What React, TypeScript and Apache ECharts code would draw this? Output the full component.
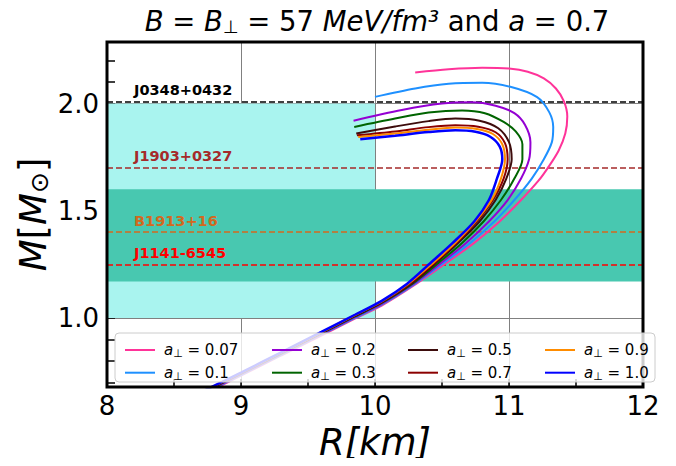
import React, { useEffect, useRef } from 'react';
import * as echarts from 'echarts';

const FONT = 'DejaVu Sans';

const X_MIN = 8;
const X_MAX = 12;
const Y_MIN = 0.678;
const Y_MAX = 2.287;

const seriesNames = ['0.07', '0.1', '0.2', '0.3', '0.5', '0.7', '0.9', '1.0'];
const seriesColors = ['#ff3399', '#1e90ff', '#9400d3', '#006400', '#3d0c0c', '#8b0000', '#ff8c00', '#0000ff'];

// radius (km) and mass (Msun), bottom branch first
const r007 = [8.77, 9.0, 9.3, 9.6, 9.85, 10.05, 10.31, 10.54, 10.74, 10.93, 11.09, 11.22, 11.29, 11.37, 11.42, 11.435, 11.41, 11.35, 11.26, 11.14, 11.0, 10.8, 10.55, 10.30];
const m007 = [0.66, 0.731, 0.825, 0.918, 0.997, 1.058, 1.16, 1.26, 1.35, 1.45, 1.55, 1.64, 1.70, 1.78, 1.86, 1.94, 2.01, 2.07, 2.117, 2.148, 2.163, 2.167, 2.16, 2.145];
const r01 = [8.76, 9.0, 9.3, 9.6, 9.85, 10.05, 10.3, 10.52, 10.71, 10.89, 11.04, 11.17, 11.26, 11.32, 11.33, 11.3, 11.21, 11.01, 10.8, 10.55, 10.3, 10.0];
const m01 = [0.66, 0.734, 0.828, 0.922, 1.0, 1.062, 1.16, 1.26, 1.35, 1.45, 1.55, 1.65, 1.74, 1.82, 1.89, 1.96, 2.03, 2.078, 2.097, 2.092, 2.07, 2.031];
const r02 = [8.75, 9.0, 9.3, 9.6, 9.85, 10.05, 10.29, 10.5, 10.68, 10.85, 10.99, 11.09, 11.15, 11.16, 11.12, 11.04, 10.9, 10.72, 10.5, 10.2, 9.84];
const m02 = [0.66, 0.737, 0.831, 0.925, 1.004, 1.066, 1.16, 1.26, 1.35, 1.45, 1.55, 1.65, 1.74, 1.82, 1.9, 1.955, 1.99, 2.006, 2.0, 1.97, 1.92];
const r03 = [8.74, 9.0, 9.3, 9.6, 9.85, 10.05, 10.28, 10.48, 10.65, 10.81, 10.94, 11.04, 11.1, 11.1, 11.05, 10.96, 10.82, 10.65, 10.4, 10.15, 9.845];
const m03 = [0.66, 0.74, 0.834, 0.928, 1.007, 1.07, 1.16, 1.26, 1.35, 1.45, 1.55, 1.65, 1.74, 1.81, 1.87, 1.914, 1.955, 1.968, 1.958, 1.93, 1.891];
const r05 = [8.74, 9.0, 9.3, 9.6, 9.85, 10.05, 10.27, 10.46, 10.62, 10.78, 10.9, 10.98, 11.02, 11.0, 10.92, 10.78, 10.6, 10.4, 10.15, 9.86];
const m05 = [0.66, 0.742, 0.836, 0.93, 1.01, 1.073, 1.16, 1.26, 1.35, 1.45, 1.55, 1.65, 1.74, 1.82, 1.885, 1.92, 1.93, 1.918, 1.893, 1.86];
const r07 = [8.73, 9.0, 9.3, 9.6, 9.85, 10.05, 10.26, 10.45, 10.61, 10.76, 10.88, 10.96, 10.99, 10.97, 10.9, 10.77, 10.6, 10.4, 10.15, 9.865];
const m07 = [0.66, 0.743, 0.837, 0.932, 1.012, 1.075, 1.16, 1.26, 1.35, 1.45, 1.55, 1.65, 1.74, 1.815, 1.866, 1.892, 1.899, 1.89, 1.87, 1.852];
const r09 = [8.73, 9.0, 9.3, 9.6, 9.85, 10.05, 10.25, 10.44, 10.6, 10.75, 10.87, 10.94, 10.97, 10.95, 10.88, 10.76, 10.6, 10.4, 10.15, 9.875];
const m09 = [0.66, 0.744, 0.838, 0.933, 1.013, 1.077, 1.16, 1.26, 1.35, 1.45, 1.55, 1.65, 1.74, 1.81, 1.858, 1.881, 1.888, 1.878, 1.86, 1.844];
const r10 = [8.72, 9.0, 9.3, 9.6, 9.85, 10.05, 10.24, 10.42, 10.58, 10.74, 10.85, 10.91, 10.95, 10.93, 10.86, 10.75, 10.6, 10.4, 10.15, 9.89];
const m10 = [0.66, 0.745, 0.84, 0.935, 1.015, 1.08, 1.16, 1.26, 1.35, 1.45, 1.55, 1.65, 1.74, 1.80, 1.845, 1.868, 1.875, 1.867, 1.85, 1.833];

const radii = [r007, r01, r02, r03, r05, r07, r09, r10];
const masses = [m007, m01, m02, m03, m05, m07, m09, m10];

const pulsarNames = ['J0348+0432', 'J1903+0327', 'B1913+16', 'J1141-6545'];
const pulsarMasses = [2.01, 1.70, 1.40, 1.25];
const pulsarColors = ['#000000', '#a52a2a', '#d2691e', '#ff0000'];

const lightBandR = [8, 10];
const lightBandM = [1.0, 2.0];
const darkBandR = [8, 12];
const darkBandM = [1.17, 1.60];

const xTickStep = 0.5;
const xGridStep = 1;

const GRID = { left: 107, top: 42, width: 536, height: 345 };

const subRich = {
  i: { fontFamily: FONT, fontStyle: 'italic', fontSize: 15, color: '#000' },
  s: { fontFamily: FONT, fontSize: 11, color: '#000', verticalAlign: 'bottom' },
  n: { fontFamily: FONT, fontSize: 15, color: '#000' },
};

export default function App() {
  const ref = useRef<HTMLDivElement>(null);
  useEffect(() => {
    if (!ref.current) return;
    const chart = echarts.init(ref.current, null, { renderer: 'svg' });

    const curveSeries = seriesNames.map((name, k) => ({
      name,
      type: 'line',
      data: radii[k].map((r, j) => [r, masses[k][j]]),
      symbol: 'none',
      smooth: 0.3,
      lineStyle: { color: seriesColors[k], width: k === 7 ? 2.5 : 2 },
      itemStyle: { color: seriesColors[k] },
      z: 5 + k,
      clip: true,
    }));

    const bandSeries = {
      name: 'bands',
      type: 'line',
      data: [],
      z: -1,
      silent: true,
      markArea: {
        silent: true,
        data: [
          [
            { xAxis: lightBandR[0], yAxis: lightBandM[0], itemStyle: { color: '#a9f4ef' } },
            { xAxis: lightBandR[1], yAxis: lightBandM[1] },
          ],
          [
            { xAxis: darkBandR[0], yAxis: darkBandM[0], itemStyle: { color: '#48c8b0' } },
            { xAxis: darkBandR[1], yAxis: darkBandM[1] },
          ],
        ],
      },
    };

    const lineSeries = {
      name: 'pulsars',
      type: 'line',
      data: [],
      z: 3,
      silent: true,
      markLine: {
        silent: true,
        symbol: ['none', 'none'],
        data: pulsarMasses.map((m, k) => ({
          yAxis: m,
          lineStyle: { color: pulsarColors[k], type: [6, 3], width: 1.5 },
          label: {
            show: true,
            formatter: pulsarNames[k],
            position: 'insideStartTop',
            distance: [27, 4],
            color: pulsarColors[k],
            fontFamily: FONT,
            fontWeight: 'bold',
            fontSize: 14.5,
          },
        })),
      },
    };

    const legendCols = [120, 267, 403, 540];
    const legends = legendCols.map((x, c) => ({
      data: seriesNames.slice(c * 2, c * 2 + 2).map((n, j) => ({
        name: n,
        icon: 'rect',
        itemStyle: { color: seriesColors[c * 2 + j] },
      })),
      orient: 'vertical',
      left: x,
      top: 336,
      itemWidth: 30,
      itemHeight: 2,
      itemGap: 4.7,
      z: 70,
      selectedMode: false,
      formatter: (name: string) => `{i|a}{s|⊥}{n| = ${name}}`,
      textStyle: { fontFamily: FONT, fontSize: 15, color: '#000', lineHeight: 18, padding: [0, 0, 0, 4], rich: subRich },
    }));

    const option = {
      animation: false,
      backgroundColor: '#fff',
      title: {
        text: '{i|B} = {i|B}{s|⊥} = 57 {i|MeV/fm³} and {i|a} = 0.7',
        left: 372,
        textAlign: 'center',
        top: 2,
        textStyle: {
          fontFamily: FONT,
          fontSize: 27.5,
          fontWeight: 'normal',
          color: '#000',
          rich: {
            i: { fontFamily: FONT, fontStyle: 'italic', fontSize: 27.5, color: '#000' },
            s: { fontFamily: FONT, fontSize: 18, color: '#000', verticalAlign: 'bottom' },
          },
        },
      },
      legend: legends,
      grid: { ...GRID, containLabel: false, outerBoundsMode: 'none' },
      xAxis: [
        {
          type: 'value',
          min: X_MIN,
          max: X_MAX,
          interval: xTickStep,
          axisLine: { show: false },
          axisTick: { show: true, inside: true, length: 8, lineStyle: { color: '#000', width: 1.5 } },
          axisLabel: {
            formatter: (v: number) => (Math.abs(v - Math.round(v)) < 1e-6 ? String(Math.round(v)) : ''),
            fontFamily: FONT,
            fontSize: 26,
            color: '#000',
            margin: 6,
            showMinLabel: true,
            showMaxLabel: true,
          },
          splitLine: { show: false },
          name: 'R[km]',
          nameLocation: 'middle',
          nameGap: 30,
          nameTextStyle: { fontFamily: FONT, fontStyle: 'italic', fontSize: 37, color: '#000' },
        },
        {
          type: 'value',
          position: 'bottom',
          min: X_MIN,
          max: X_MAX,
          interval: xGridStep,
          axisLine: { show: false },
          axisTick: { show: false },
          axisLabel: { show: false },
          splitLine: { show: true, lineStyle: { color: '#808080', width: 1 } },
        },
      ],
      yAxis: [
        {
          type: 'value',
          position: 'left',
          min: Y_MIN,
          max: Y_MAX,
          splitNumber: 16,
          axisLine: { show: false },
          axisTick: { show: true, inside: true, length: 8, lineStyle: { color: '#000', width: 1.5 } },
          axisLabel: { show: false },
          splitLine: { show: false },
          name: '{i|M}[{i|M}{s|⊙}]',
          nameLocation: 'middle',
          nameGap: 55,
          nameRotate: 90,
          nameTextStyle: {
            fontFamily: FONT,
            fontSize: 37,
            color: '#000',
            rich: {
              i: { fontFamily: FONT, fontStyle: 'italic', fontSize: 37, color: '#000' },
              s: { fontFamily: FONT, fontSize: 25, color: '#000', verticalAlign: 'bottom' },
            },
          },
        },
        {
          type: 'value',
          position: 'left',
          min: Y_MIN,
          max: Y_MAX,
          splitNumber: 3,
          axisLine: { show: false },
          axisTick: { show: false },
          axisLabel: {
            formatter: (v: number) => (Math.abs(v * 2 - Math.round(v * 2)) < 1e-6 ? v.toFixed(1) : ''),
            fontFamily: FONT,
            fontSize: 26,
            color: '#000',
            margin: 8,
          },
          splitLine: { show: true, lineStyle: { color: '#808080', width: 1 } },
        },
      ],
      graphic: [
        {
          type: 'rect',
          z: 50,
          silent: true,
          shape: { x: GRID.left, y: GRID.top, width: GRID.width, height: GRID.height },
          style: { fill: 'none', stroke: '#000', lineWidth: 3 },
        },
        {
          type: 'rect',
          z: 60,
          silent: true,
          shape: { x: 115, y: 333, width: 540, height: 49, r: 4 },
          style: { fill: 'rgba(255,255,255,0.8)', stroke: '#cccccc', lineWidth: 1 },
        },
      ],
      series: [bandSeries, lineSeries, ...curveSeries],
    };

    chart.setOption(option as any);
    return () => chart.dispose();
  }, []);

  return <div ref={ref} style={{ width: 676, height: 466, margin: -8 }} />;
}
